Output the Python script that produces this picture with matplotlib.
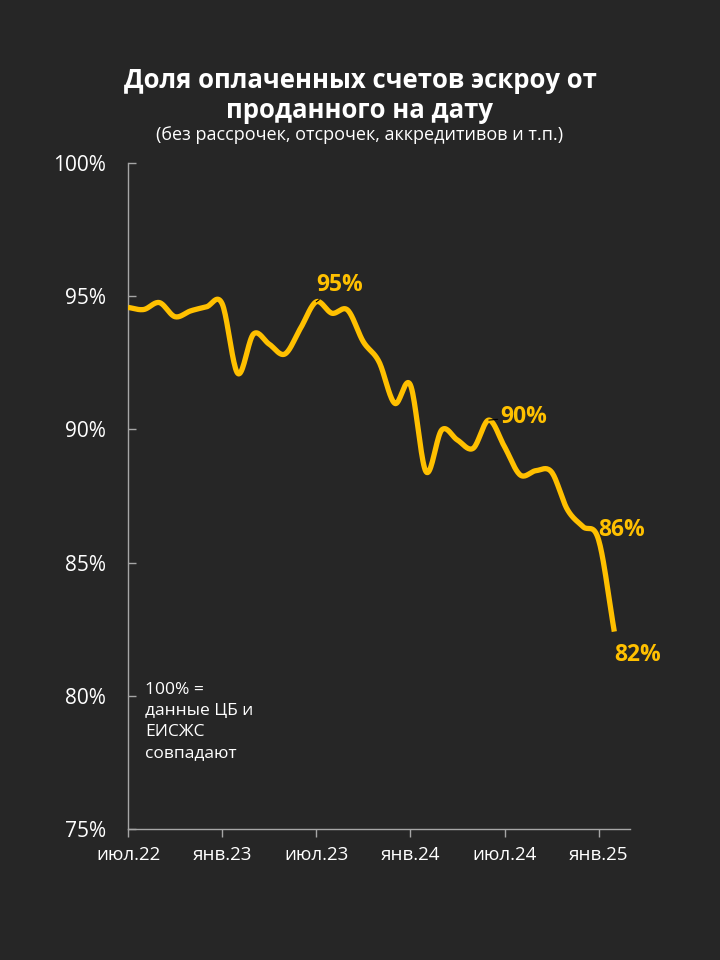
import numpy as np
import matplotlib
matplotlib.use("Agg")
import matplotlib.pyplot as plt
from matplotlib import font_manager

bold_ok = [f.name for f in font_manager.fontManager.ttflist if f.weight in (700, 'bold')]
FONT = 'Open Sans' if 'Open Sans' in bold_ok else ('Lato' if 'Lato' in bold_ok else 'DejaVu Sans')
plt.rcParams['font.family'] = [FONT, 'DejaVu Sans']

# monthly values, Jul 2022 .. Feb 2025 (share, %)
months = list(range(32))
values = [94.58, 94.50, 94.76, 94.23, 94.45, 94.60, 94.72, 92.10, 93.58, 93.20,
          92.83, 93.80, 94.79, 94.36, 94.48, 93.29, 92.54, 90.98, 91.67, 88.41,
          89.98, 89.60, 89.29, 90.35, 89.35, 88.29, 88.45, 88.40, 87.00, 86.35,
          85.85, 82.41]
tick_pos = [0, 6, 12, 18, 24, 30]
tick_labels = ['июл.22', 'янв.23', 'июл.23', 'янв.24', 'июл.24', 'янв.25']
y_ticks = [75, 80, 85, 90, 95, 100]
y_tick_labels = ['75%', '80%', '85%', '90%', '95%', '100%']
# annotated points: (month index, label)
ann_points = [(12, '95%'), (23, '90%'), (30, '86%'), (31, '82%')]

BG = '#262626'
YEL = '#FFC000'
AX = '#A6A6A6'

def catmull_rom(x, y, n=20):
    x = np.asarray(x, float); y = np.asarray(y, float)
    px = np.concatenate([[2*x[0]-x[1]], x, [2*x[-1]-x[-2]]])
    py = np.concatenate([[2*y[0]-y[1]], y, [2*y[-1]-y[-2]]])
    xs, ys = [], []
    t = np.linspace(0, 1, n, endpoint=False)
    for i in range(1, len(px)-2):
        p0, p1, p2, p3 = py[i-1], py[i], py[i+1], py[i+2]
        q0, q1, q2, q3 = px[i-1], px[i], px[i+1], px[i+2]
        c1y = p1 + (p2 - p0) / 6; c2y = p2 - (p3 - p1) / 6
        c1x = q1 + (q2 - q0) / 6; c2x = q2 - (q3 - q1) / 6
        b0 = (1-t)**3; b1 = 3*(1-t)**2*t; b2 = 3*(1-t)*t**2; b3 = t**3
        xs.append(b0*q1 + b1*c1x + b2*c2x + b3*q2)
        ys.append(b0*p1 + b1*c1y + b2*c2y + b3*p2)
    xs.append([x[-1]]); ys.append([y[-1]])
    return np.concatenate(xs), np.concatenate(ys)

fig = plt.figure(figsize=(7.2, 9.6), dpi=100, facecolor=BG)
ax = fig.add_axes([128/720, 1-829/960, (630-128)/720, (829-163)/960], facecolor=BG)

sx, sy = catmull_rom(months, values)
ax.plot(sx, sy, color=YEL, lw=3.8, solid_capstyle='butt', zorder=3)

ax.set_xlim(0, 32)
ax.set_ylim(75, 100)
ax.set_xticks(tick_pos)
ax.set_xticklabels(tick_labels)
ax.set_yticks(y_ticks)
ax.set_yticklabels(y_tick_labels)
for s in ['top', 'right']:
    ax.spines[s].set_visible(False)
for s in ['left', 'bottom']:
    ax.spines[s].set_color(AX)
    ax.spines[s].set_linewidth(1.0)
ax.tick_params(axis='x', colors=AX, direction='out', length=6, width=1,
               labelcolor='white', labelsize=13.5, pad=6)
ax.tick_params(axis='y', colors=AX, direction='in', length=6, width=1,
               labelcolor='white', labelsize=15, pad=16)

offsets = {'95%': (23, 17), '90%': (35, 3), '86%': (23, 10), '82%': (23, -23)}
for idx, lab in ann_points:
    dx, dy = offsets[lab]
    kw = {}
    if lab in ('95%', '90%'):
        kw['arrowprops'] = dict(arrowstyle='-', color='black', lw=0.8,
                                shrinkA=11 if lab == '95%' else 27, shrinkB=0)
    ax.annotate(lab, xy=(idx, values[idx]), xytext=(dx, dy), textcoords='offset pixels',
                ha='center', va='center', color=YEL, fontsize=16.5, fontweight='bold',
                zorder=4, **kw)

fig.text(145/720, 1-682/960, '100% =\nданные ЦБ и\nЕИСЖС\nсовпадают',
         color='white', fontsize=12.5, va='top', ha='left', linespacing=1.42)

fig.text(0.5, 1-80/960, 'Доля оплаченных счетов эскроу от', color='white', fontsize=18.5,
         fontweight='bold', ha='center', va='center')
fig.text(0.5, 1-110/960, 'проданного на дату', color='white', fontsize=18.5,
         fontweight='bold', ha='center', va='center')
fig.text(0.5, 1-135/960, '(без рассрочек, отсрочек, аккредитивов и т.п.)', color='white',
         fontsize=13, ha='center', va='center')

fig.savefig('out.png', dpi=100, facecolor=BG)
